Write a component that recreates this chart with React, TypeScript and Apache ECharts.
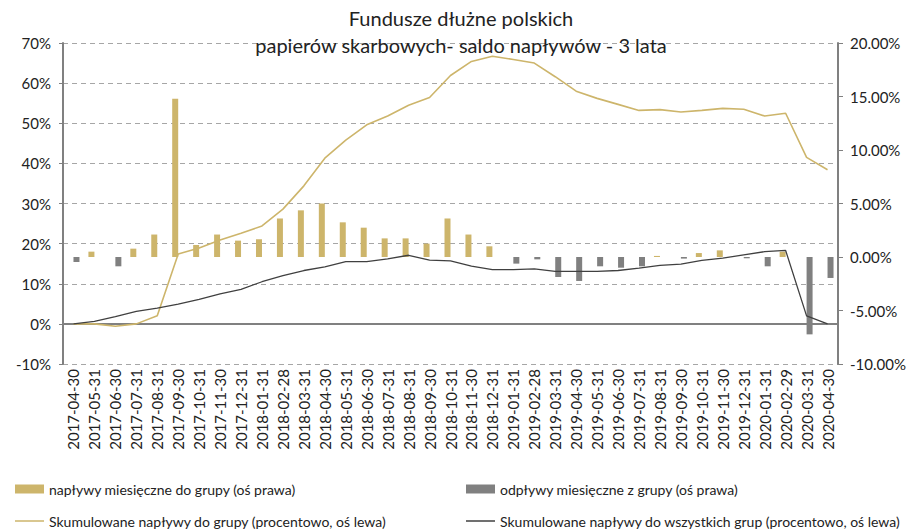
import React, { useEffect, useRef } from "react";
import * as echarts from "echarts";

const categories = [
  "2017-04-30","2017-05-31","2017-06-30","2017-07-31","2017-08-31","2017-09-30","2017-10-31","2017-11-30","2017-12-31",
  "2018-01-31","2018-02-28","2018-03-31","2018-04-30","2018-05-31","2018-06-30","2018-07-31","2018-08-31","2018-09-30",
  "2018-10-31","2018-11-30","2018-12-31","2019-01-31","2019-02-28","2019-03-31","2019-04-30","2019-05-31","2019-06-30",
  "2019-07-31","2019-08-31","2019-09-30","2019-10-31","2019-11-30","2019-12-31","2020-01-31","2020-02-29","2020-03-31","2020-04-30",
];

// monthly inflows (right axis, %)
const inflows = [
  null, 0.5, null, 0.78, 2.1, 14.8, 1.12, 2.1, 1.53,
  1.65, 3.6, 4.36, 5.0, 3.24, 2.74, 1.74, 1.74, 1.25,
  3.6, 2.1, 1.0, null, null, null, null, null, null,
  null, 0.1, null, 0.37, 0.62, null, null, 0.5, null, null,
];

// monthly outflows (right axis, %)
const outflows = [
  -0.47, null, -0.87, null, null, null, null, null, null,
  null, null, null, null, null, null, null, null, null,
  null, null, null, -0.62, -0.22, -1.87, -2.24, -0.87, -1.0,
  -0.87, null, -0.15, null, null, -0.12, -0.87, null, -7.23, -1.96,
];

// cumulative inflows to group (left axis, %)
const cumGroup = [
  0, 0, -0.6, 0, 2.0, 17.4, 18.9, 20.9, 22.6,
  24.4, 28.6, 34.4, 41.3, 45.8, 49.6, 51.8, 54.5, 56.4,
  61.9, 65.4, 66.7, 65.9, 65.0, 61.6, 58.0, 56.2, 54.7,
  53.2, 53.4, 52.8, 53.2, 53.7, 53.5, 51.8, 52.5, 41.5, 38.4,
];

// cumulative inflows to all groups (left axis, %)
const cumAll = [
  0, 0.6, 1.8, 3.1, 3.9, 4.9, 6.1, 7.5, 8.6,
  10.5, 12.0, 13.3, 14.2, 15.5, 15.5, 16.2, 17.1, 15.9,
  15.7, 14.4, 13.5, 13.5, 13.7, 13.1, 13.1, 13.1, 13.3,
  13.9, 14.6, 14.9, 15.8, 16.4, 17.2, 18.0, 18.3, 2.0, 0,
];

const GOLD = "#CDB56B";
const GRAY = "#808080";
const DARK = "#404040";
const FONT = "Lato";

const N1 = "napływy miesięczne do grupy (oś prawa)";
const N2 = "odpływy miesięczne z grupy (oś prawa)";
const N3 = "Skumulowane napływy do grupy (procentowo, oś lewa)";
const N4 = "Skumulowane napływy do wszystkich grup (procentowo, oś lewa)";

export default function App() {
  const ref = useRef<HTMLDivElement>(null);
  useEffect(() => {
    document.body.style.margin = "0";
    const chart = echarts.init(ref.current!, null, { renderer: "svg" });
    const legendText = { fontFamily: FONT, fontSize: 14, color: "#222" };
    chart.setOption({
      animation: false,
      backgroundColor: "#ffffff",
      textStyle: { fontFamily: FONT },
      title: {
        text: "Fundusze dłużne polskich\npapierów skarbowych- saldo napływów - 3 lata",
        left: 461,
        textAlign: "center",
        top: 4,
        padding: 0,
        textStyle: {
          fontFamily: FONT,
          fontSize: 20,
          fontWeight: "normal",
          color: "#222",
          lineHeight: 27,
        },
      },
      legend: [
        { data: [{ name: N1, icon: "rect" }], left: 15, top: 482, itemWidth: 29, itemHeight: 9, textStyle: legendText, padding: 0 },
        { data: [{ name: N2, icon: "rect" }], left: 466, top: 482, itemWidth: 29, itemHeight: 9, textStyle: legendText, padding: 0 },
        { data: [{ name: N3, icon: "rect" }], left: 15, top: 514, itemWidth: 29, itemHeight: 1.5, textStyle: legendText, padding: 0 },
        { data: [{ name: N4, icon: "rect" }], left: 466, top: 514, itemWidth: 29, itemHeight: 1.5, textStyle: legendText, padding: 0 },
      ],
      grid: { left: 63, right: 74, top: 43, bottom: 168, containLabel: false },
      xAxis: {
        type: "category",
        data: categories,
        boundaryGap: true,
        axisLine: { show: false },
        axisTick: { show: false },
        axisLabel: {
          interval: 0,
          rotate: 90,
          fontFamily: FONT,
          fontSize: 15,
          color: "#222",
          margin: 5,
        },
      },
      yAxis: [
        {
          type: "value",
          min: -10,
          max: 70,
          interval: 10,
          position: "left",
          axisLine: { show: true, lineStyle: { color: GRAY, width: 2 } },
          axisTick: { show: true, length: 4, lineStyle: { color: GRAY } },
          axisLabel: { formatter: "{value}%", fontFamily: FONT, fontSize: 15, color: "#222", margin: 12 },
          splitLine: { show: true, lineStyle: { color: "#A6A6A6", type: [5, 4], width: 1 } },
        },
        {
          type: "value",
          min: -10,
          max: 20,
          interval: 5,
          position: "right",
          axisLine: { show: true, lineStyle: { color: GRAY, width: 2 } },
          axisTick: { show: true, length: 5, lineStyle: { color: GRAY } },
          axisLabel: {
            formatter: (v: number) => v.toFixed(2) + "%",
            fontFamily: FONT,
            fontSize: 15,
            color: "#222",
            margin: 12,
          },
          splitLine: { show: false },
        },
      ],
      series: [
        {
          name: N1,
          type: "bar",
          yAxisIndex: 1,
          data: inflows,
          barWidth: 6,
          barGap: "0%",
          itemStyle: { color: GOLD },
        },
        {
          name: N2,
          type: "bar",
          yAxisIndex: 1,
          data: outflows,
          barWidth: 6,
          barGap: "0%",
          itemStyle: { color: GRAY },
        },
        {
          name: N3,
          type: "line",
          yAxisIndex: 0,
          data: cumGroup,
          symbol: "none",
          lineStyle: { color: GOLD, width: 1.6 },
          itemStyle: { color: GOLD },
          z: 3,
          markLine: {
            silent: true,
            symbol: "none",
            label: { show: false },
            lineStyle: { color: GRAY, width: 2, type: "solid" },
            data: [{ yAxis: 0 }],
            z: 1,
          },
        },
        {
          name: N4,
          type: "line",
          yAxisIndex: 0,
          data: cumAll,
          symbol: "none",
          lineStyle: { color: DARK, width: 1.3 },
          itemStyle: { color: DARK },
          z: 4,
        },
      ],
    });
    return () => chart.dispose();
  }, []);
  return <div ref={ref} style={{ width: 912, height: 532 }} />;
}
